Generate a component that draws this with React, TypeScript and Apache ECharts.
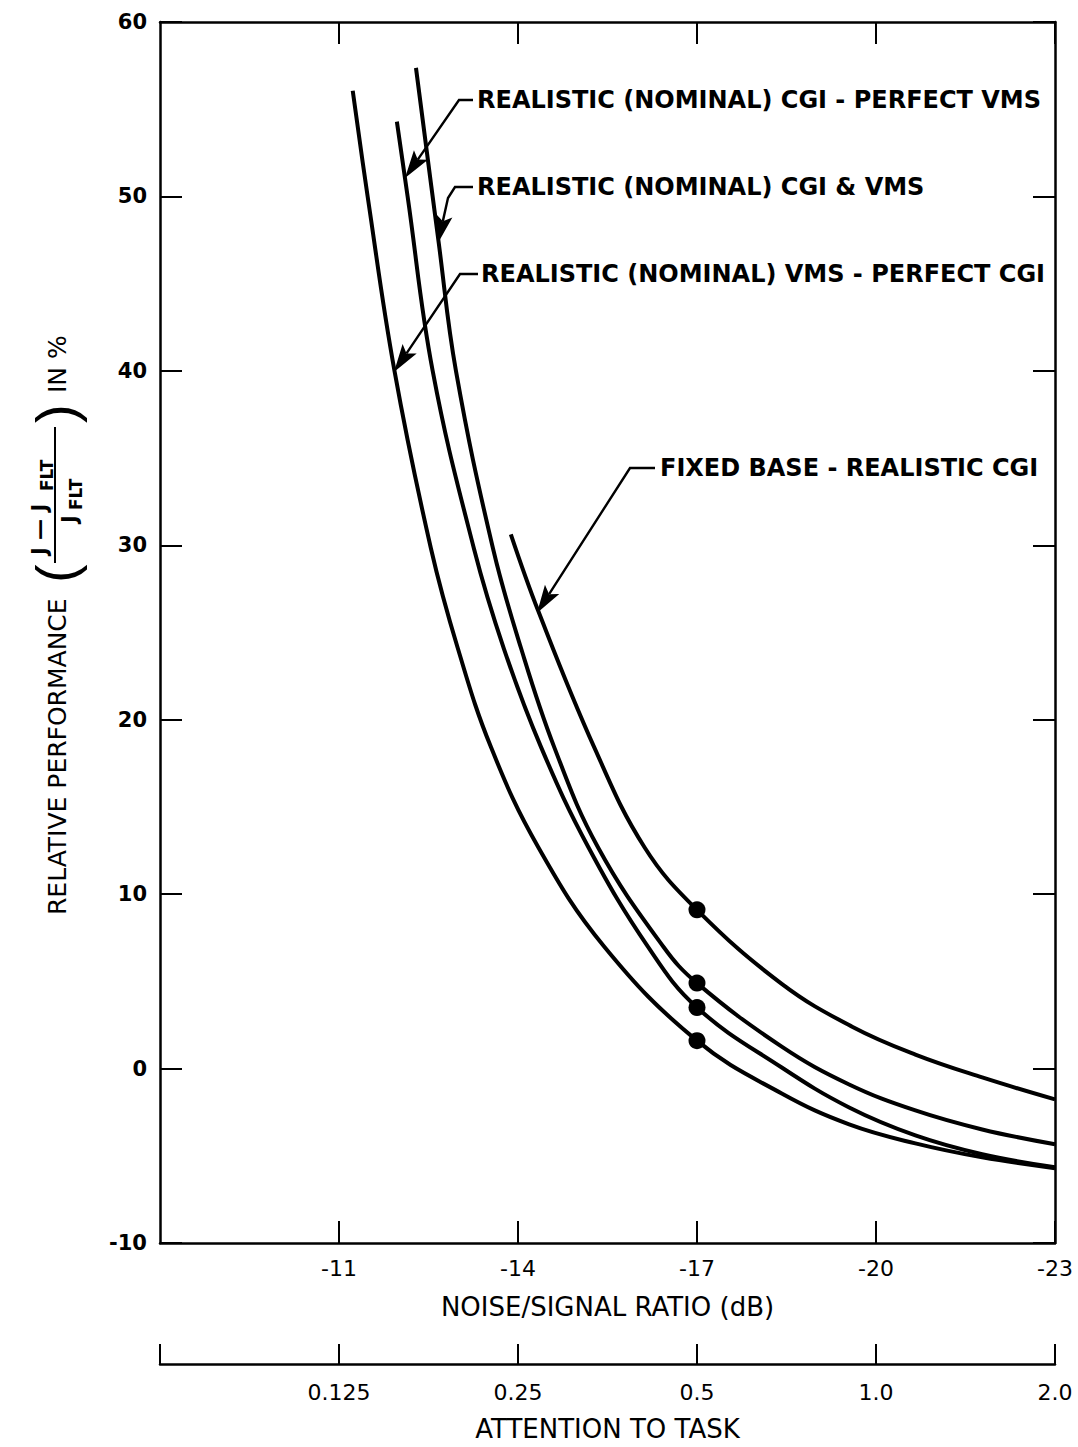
import React, { useEffect, useRef } from "react";
import * as echarts from "echarts";

// ---- data (noise/signal ratio in dB, relative performance in %) ----
const dbTicks = [-11, -14, -17, -20, -23];
const attentionLabels = ["0.125", "0.25", "0.5", "1.0", "2.0"];
const yTicks = [-10, 0, 10, 20, 30, 40, 50, 60];

const vmsPerfectCgi: [number, number][] = [
  [-11.23, 56.06], [-11.48, 50.0], [-11.93, 40.0], [-12.54, 29.83], [-12.99, 24.11],
  [-13.55, 18.4], [-14.34, 12.69], [-15.45, 6.97], [-17.0, 1.6], [-18.42, -1.43],
  [-19.55, -3.2], [-20.66, -4.29], [-21.78, -5.09], [-23.0, -5.71],
];
const cgiPerfectVms: [number, number][] = [
  [-11.97, 54.29], [-12.15, 50.0], [-12.57, 40.0], [-13.26, 29.83], [-13.76, 24.11],
  [-14.39, 18.4], [-15.18, 12.69], [-16.18, 6.97], [-17.0, 3.5], [-18.42, 0.06],
  [-19.55, -2.23], [-20.66, -3.83], [-21.78, -4.91], [-23.0, -5.66],
];
const cgiAndVms: [number, number][] = [
  [-12.29, 57.37], [-12.67, 47.37], [-12.96, 40.0], [-13.58, 29.83], [-14.05, 24.11],
  [-14.61, 18.4], [-15.34, 12.69], [-16.44, 6.97], [-17.0, 4.9], [-18.42, 1.26],
  [-19.55, -0.91], [-20.66, -2.4], [-21.78, -3.49], [-23.0, -4.34],
];
const fixedBase: [number, number][] = [
  [-13.88, 30.63], [-14.34, 26.23], [-15.28, 18.4], [-16.12, 12.69], [-17.0, 9.1],
  [-18.42, 4.86], [-19.6, 2.4], [-20.66, 0.8], [-21.78, -0.51], [-23.0, -1.77],
];
const dotX = -17;
const dotValues = [9.1, 4.9, 3.5, 1.6];

const FONT = "DejaVu Sans";

function arrowEls(pts: number[][]) {
  const n = pts.length;
  const tip = pts[n - 1];
  const prev = pts[n - 2];
  const dx = tip[0] - prev[0];
  const dy = tip[1] - prev[1];
  const len = Math.hypot(dx, dy);
  const ux = dx / len;
  const uy = dy / len;
  const hl = 28;
  const hw = 8.5;
  const base = [tip[0] - ux * hl, tip[1] - uy * hl];
  const notch = [tip[0] - ux * hl * 0.8, tip[1] - uy * hl * 0.8];
  const shaft = pts.slice(0, n - 1).concat([notch]);
  return [
    {
      type: "polyline",
      silent: true,
      shape: { points: shaft },
      style: { stroke: "#000", lineWidth: 2.4, fill: "none" },
    },
    {
      type: "polygon",
      silent: true,
      shape: {
        points: [
          tip,
          [base[0] - uy * hw, base[1] + ux * hw],
          notch,
          [base[0] + uy * hw, base[1] - ux * hw],
        ],
      },
      style: { fill: "#000" },
    },
  ];
}

function label(x: number, y: number, text: string) {
  return {
    type: "text",
    silent: true,
    x,
    y,
    style: {
      text,
      fontFamily: FONT,
      fontWeight: "bold",
      fontSize: 24,
      fill: "#000",
      align: "left",
      verticalAlign: "middle",
      textAlign: "left",
      textVerticalAlign: "middle",
    },
  };
}

function t(x: number, y: number, text: string, size: number, weight: string, family = FONT) {
  return {
    type: "text",
    silent: true,
    x,
    y,
    style: {
      text,
      fontFamily: family,
      fontWeight: weight,
      fontSize: size,
      fill: "#000",
      align: "left",
      verticalAlign: "middle",
      textAlign: "left",
      textVerticalAlign: "middle",
    },
  };
}

export default function App() {
  const ref = useRef<HTMLDivElement>(null);

  useEffect(() => {
    document.body.style.margin = "0";
    if (!ref.current) return;
    const chart = echarts.init(ref.current, null, { renderer: "svg" });

    const lineStyle = { color: "#000", width: 2.5 };
    const tickStyle = { color: "#000", width: 2 };
    const xRange = { type: "value", min: -23, max: -8, inverse: true, splitLine: { show: false } };

    const curve = (name: string, data: [number, number][]) => ({
      name,
      type: "line",
      data,
      smooth: 0.4,
      symbol: "none",
      lineStyle: { color: "#000", width: 4 },
      xAxisIndex: 0,
      yAxisIndex: 0,
      z: 3,
    });

    const yLabelMap = new Set(yTicks);

    chart.setOption({
      animation: false,
      backgroundColor: "#fff",
      grid: { left: 160, right: 23, top: 22, bottom: 200, containLabel: false },
      xAxis: [
        {
          ...xRange,
          position: "bottom",
          axisLine: { show: true, onZero: false, lineStyle },
          axisTick: { show: true, inside: true, length: 22, lineStyle: tickStyle, customValues: dbTicks },
          axisLabel: {
            show: true,
            customValues: dbTicks,
            margin: 14,
            fontFamily: FONT,
            fontSize: 22,
            color: "#000",
            formatter: (v: number) => String(v),
          },
          name: "NOISE/SIGNAL RATIO (dB)",
          nameLocation: "middle",
          nameGap: 51,
          nameTextStyle: { fontFamily: FONT, fontSize: 26, color: "#000" },
        },
        {
          ...xRange,
          position: "top",
          axisLine: { show: true, onZero: false, lineStyle },
          axisTick: { show: true, inside: true, length: 22, lineStyle: tickStyle, customValues: dbTicks },
          axisLabel: { show: false },
        },
        {
          ...xRange,
          position: "bottom",
          offset: 121,
          axisLine: { show: true, onZero: false, lineStyle },
          axisTick: {
            show: true,
            inside: true,
            length: 20,
            lineStyle: tickStyle,
            customValues: [-8, ...dbTicks],
          },
          axisLabel: {
            show: true,
            customValues: dbTicks,
            margin: 17,
            fontFamily: FONT,
            fontSize: 22,
            color: "#000",
            formatter: (v: number) => attentionLabels[dbTicks.indexOf(v)] ?? "",
          },
          name: "ATTENTION TO TASK",
          nameLocation: "middle",
          nameGap: 52,
          nameTextStyle: { fontFamily: FONT, fontSize: 26, color: "#000" },
        },
      ],
      yAxis: [
        {
          type: "value",
          min: -10,
          max: 60,
          interval: 10,
          position: "left",
          splitLine: { show: false },
          axisLine: { show: true, onZero: false, lineStyle },
          axisTick: { show: true, inside: true, length: 22, lineStyle: tickStyle },
          axisLabel: {
            margin: 13,
            fontFamily: FONT,
            fontWeight: "bold",
            fontSize: 21,
            color: "#000",
            formatter: (v: number) => (yLabelMap.has(v) ? String(v) : ""),
          },
        },
        {
          type: "value",
          min: -10,
          max: 60,
          interval: 10,
          position: "right",
          splitLine: { show: false },
          axisLine: { show: true, onZero: false, lineStyle },
          axisTick: { show: true, inside: true, length: 22, lineStyle: tickStyle },
          axisLabel: { show: false },
        },
      ],
      series: [
        curve("REALISTIC (NOMINAL) VMS - PERFECT CGI", vmsPerfectCgi),
        curve("REALISTIC (NOMINAL) CGI - PERFECT VMS", cgiPerfectVms),
        curve("REALISTIC (NOMINAL) CGI & VMS", cgiAndVms),
        curve("FIXED BASE - REALISTIC CGI", fixedBase),
        {
          name: "dots",
          type: "scatter",
          data: dotValues.map((v) => [dotX, v]),
          symbol: "circle",
          symbolSize: 17,
          itemStyle: { color: "#000", opacity: 1 },
          xAxisIndex: 0,
          yAxisIndex: 0,
          z: 4,
        },
      ],
      graphic: [
        label(477, 100, "REALISTIC (NOMINAL) CGI - PERFECT VMS"),
        label(477, 187, "REALISTIC (NOMINAL) CGI & VMS"),
        label(481, 274, "REALISTIC (NOMINAL) VMS - PERFECT CGI"),
        label(660, 468, "FIXED BASE - REALISTIC CGI"),
        ...arrowEls([[473, 100], [459, 100], [405, 178]]),
        ...arrowEls([[473, 187], [455, 187], [448, 198], [438, 243]]),
        ...arrowEls([[478, 274], [460, 274], [394, 372]]),
        ...arrowEls([[655, 468], [630, 468], [537, 613]]),
        {
          type: "group",
          x: 57,
          y: 915,
          rotation: Math.PI / 2,
          silent: true,
          children: [
            t(0, 0, "RELATIVE PERFORMANCE", 25, "normal"),
            t(332, -2, "(", 56, "normal", "Liberation Sans"),
            t(360, -17, "J — J", 21, "bold"),
            t(424, -10, "FLT", 17, "bold"),
            {
              type: "line",
              silent: true,
              shape: { x1: 352, y1: -2, x2: 488, y2: -2 },
              style: { stroke: "#000", lineWidth: 2 },
            },
            t(392, 13, "J", 21, "bold"),
            t(405, 19, "FLT", 17, "bold"),
            t(492, -2, ")", 56, "normal", "Liberation Sans"),
            t(522, 0, "IN %", 25, "normal"),
          ],
        },
      ],
    });

    return () => chart.dispose();
  }, []);

  return <div ref={ref} style={{ width: 1078, height: 1447 }} />;
}
